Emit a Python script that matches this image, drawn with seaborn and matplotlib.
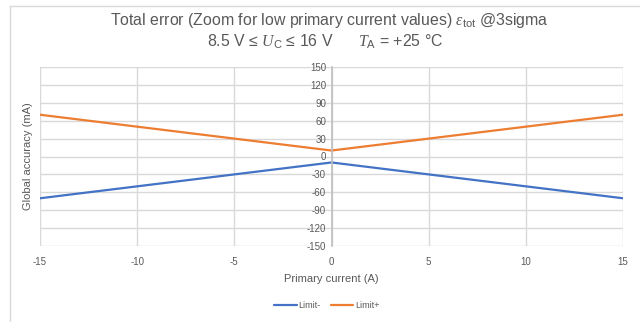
import matplotlib
matplotlib.use("Agg")
import matplotlib.pyplot as plt
import seaborn as sns
import pandas as pd
from matplotlib.lines import Line2D

current = [-15, -10, -5, 0, 5, 10, 15]
limit_minus = [-70, -50, -30, -10, -30, -50, -70]
limit_plus = [70, 50, 30, 10, 30, 50, 70]
series_names = ["Limit-", "Limit+"]
colors = ["#4472C4", "#ED7D31"]
x_ticks = [-15, -10, -5, 0, 5, 10, 15]
y_ticks = [-150, -120, -90, -60, -30, 0, 30, 60, 90, 120, 150]

df = pd.DataFrame({
    "x": current * 2,
    "y": limit_minus + limit_plus,
    "series": [series_names[0]] * len(current) + [series_names[1]] * len(current),
})

sns.set_theme(style="white")
plt.rcParams["font.family"] = ["Liberation Sans", "DejaVu Sans"]
plt.rcParams["mathtext.fontset"] = "custom"
plt.rcParams["mathtext.rm"] = "Liberation Sans"
plt.rcParams["mathtext.it"] = "Liberation Serif:italic"
plt.rcParams["axes.unicode_minus"] = False

txt = "#595959"
grid = "#d9d9d9"

fig = plt.figure(figsize=(6.4, 3.22), dpi=100)
ax = fig.add_axes([40 / 640, 1 - 246 / 322, (623 - 40) / 640, (246 - 67) / 322])

sns.lineplot(data=df, x="x", y="y", hue="series", palette=colors, ax=ax,
             linewidth=1.6, legend=False)

ax.set_xlim(-15, 15)
ax.set_ylim(-150, 150)
ax.set_xticks(x_ticks)
ax.set_yticks(y_ticks)
ax.grid(True, color=grid, linewidth=1.0)
ax.set_axisbelow(True)
for s in ["top", "right", "bottom"]:
    ax.spines[s].set_visible(False)
ax.spines["left"].set_position(("data", 0))
ax.spines["left"].set_color("#bfbfbf")
ax.spines["left"].set_linewidth(1.2)
ax.tick_params(axis="x", length=0, labelsize=7, colors=txt, pad=8)
ax.tick_params(axis="y", length=3, direction="out", color=grid, labelsize=7, colors=txt, pad=1)
ax.set_xlabel("Primary current (A)", fontsize=8, color=txt, labelpad=5)
ax.set_ylabel("")
fig.text(28 / 640, 1 - 156 / 322, "Global accuracy (mA)", rotation=90, fontsize=8,
         color=txt, ha="center", va="center")

fig.text(329 / 640, 1 - 20 / 322,
         r"Total error (Zoom for low primary current values) $\varepsilon_{\rm tot}$ @3sigma",
         fontsize=11.4, color=txt, ha="center", va="center")
fig.text(325 / 640, 1 - 42 / 322,
         "8.5 V ≤ $U_{\\rm C}$ ≤ 16 V      $T_{\\rm A}$ = +25 °C",
         fontsize=11.4, color=txt, ha="center", va="center")

handles = [Line2D([0], [0], color=c, lw=1.6) for c in colors]
fig.legend(handles, series_names, loc="center", bbox_to_anchor=(327 / 640, 1 - 306 / 322),
           ncol=2, frameon=False, fontsize=6.5, labelcolor=txt, handlelength=2.5,
           handletextpad=0.2, columnspacing=1.1)

fig.add_artist(Line2D([10 / 640, 10 / 640], [0, 1 - 6 / 322], color=grid, lw=1.0))
fig.add_artist(Line2D([10 / 640, 1], [1 - 6 / 322, 1 - 6 / 322], color=grid, lw=1.0))

fig.savefig("out.png", dpi=100)
